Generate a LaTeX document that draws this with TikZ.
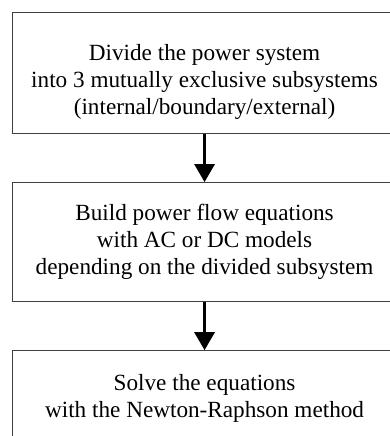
\documentclass[tikz,border=0pt]{standalone}
\usepackage{fontspec}
\setmainfont{Liberation Serif}
\usetikzlibrary{positioning,arrows.meta}

\begin{document}
\begin{tikzpicture}[
    >={Triangle[width=20pt,length=18pt]},
    stepbox/.style={draw=black!75, line width=1.1pt, minimum width=384pt,
        align=center, font=\fontsize{23.2}{27}\selectfont},
    node distance=48pt
]

\useasboundingbox (0,0) rectangle (390pt,-436pt);

% strut pushes the first block of text a bit down
\node[stepbox, minimum height=121pt, below right] (divide) at (12pt,-12pt)
    {\rule{0pt}{34pt}Divide the power system\\into 3 mutually exclusive subsystems\\(internal/boundary/external)};
\node[stepbox, minimum height=119pt, below=of divide] (build)
    {Build power flow equations\\with AC or DC models\\depending on the divided subsystem};
\node[stepbox, minimum height=96pt, below=of build] (solve)
    {Solve the equations\\with the Newton-Raphson method};

\draw[->, line width=3pt] (divide) -- (build);
\draw[->, line width=3pt] (build) -- (solve);

\end{tikzpicture}
\end{document}
